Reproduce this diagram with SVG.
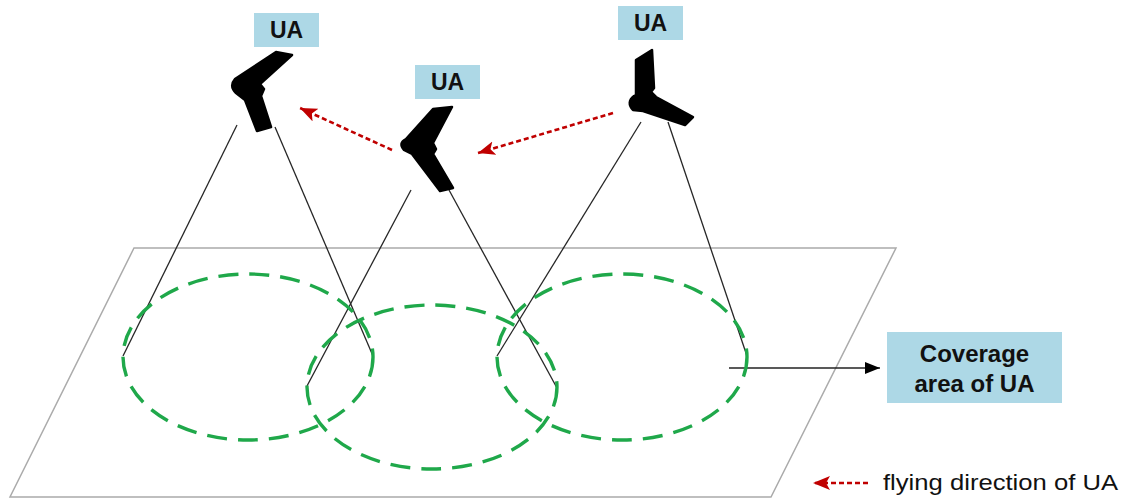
<svg xmlns="http://www.w3.org/2000/svg" width="1127" height="499" viewBox="0 0 1127 499">
  <style>
    .plane { fill: #ffffff; stroke: #ababab; stroke-width: 1.5; }
    .cover { fill: none; stroke: #1fa84a; stroke-width: 3.4; stroke-dasharray: 20 11; }
    .beam { stroke: #262626; stroke-width: 1.3; fill: none; }
    .drone { fill: #000000; stroke: #000000; stroke-width: 2.5; stroke-linejoin: round; }
    .tag { fill: #add8e6; }
    .tagtext { font-family: "Liberation Sans", Arial, sans-serif; font-weight: bold; font-size: 23px; fill: #111111; text-anchor: middle; }
    .fly { stroke: #c00000; stroke-width: 2.6; stroke-dasharray: 5 3; fill: none; }
    .legend { font-family: "Liberation Sans", Arial, sans-serif; font-size: 22px; fill: #111111; }
  </style>
  <defs>
    <marker id="redHead" markerUnits="userSpaceOnUse" markerWidth="20" markerHeight="16" refX="17" refY="7" orient="auto">
      <path d="M0,0 L17,7 L0,14 L4,7 Z" fill="#c00000"/>
    </marker>
    <marker id="blackHead" markerUnits="userSpaceOnUse" markerWidth="16" markerHeight="12" refX="15" refY="6" orient="auto">
      <path d="M0,0 L15,6 L0,12 Z" fill="#000000"/>
    </marker>
  </defs>

  <!-- ground plane -->
  <polygon class="plane" points="134,248 896,248 771,497 10,497"/>

  <!-- beams from each UA down to the edge of its footprint -->
  <g id="connectors">
    <line class="beam" x1="237" y1="125" x2="123" y2="356"/>
    <line class="beam" x1="275" y1="127" x2="373" y2="356"/>
    <line class="beam" x1="411" y1="190" x2="307" y2="386"/>
    <line class="beam" x1="449" y1="190" x2="557" y2="388"/>
    <line class="beam" x1="641" y1="122" x2="497" y2="356"/>
    <line class="beam" x1="668" y1="122" x2="747" y2="356"/>
    <!-- flying direction -->
    <line class="fly" x1="392" y1="150" x2="300" y2="108" marker-end="url(#redHead)"/>
    <line class="fly" x1="613" y1="113" x2="478" y2="153" marker-end="url(#redHead)"/>
    <!-- pointer to coverage label -->
    <line x1="729" y1="368" x2="880" y2="368" stroke="#222222" stroke-width="1.5" marker-end="url(#blackHead)"/>
  </g>

  <!-- coverage footprints -->
  <g id="footprints">
    <ellipse class="cover" cx="248" cy="357" rx="125" ry="83"/>
    <ellipse class="cover" cx="432" cy="387" rx="125" ry="82"/>
    <ellipse class="cover" cx="622" cy="357" rx="125" ry="83"/>
  </g>

  <!-- UA 1 -->
  <g id="ua1">
    <path class="drone" d="M276,52 L292,55 L260,84 L264,89 L261,96 L271,127 L257,131 L245,100 L236,93 Q229,86 235,79 Z"/>
    <rect class="tag" x="254" y="13" width="65" height="34"/>
    <text class="tagtext" x="286.5" y="38">UA</text>
  </g>

  <!-- UA 2 -->
  <g id="ua2">
    <path class="drone" d="M433,109 L452,107 L433,143 L436,149 L433,154 L453,188 L440,191 L412,154 L404,150 Q398,143 406,139 Z"/>
    <rect class="tag" x="415" y="65" width="65" height="34"/>
    <text class="tagtext" x="447.5" y="90">UA</text>
  </g>

  <!-- UA 3 -->
  <g id="ua3">
    <path class="drone" d="M636,60 L652,50 L654,88 L651,92 L656,97 L693,117 L685,125 L643,111 L633,110 Q626,102 634,96 L636,95 Z"/>
    <rect class="tag" x="618" y="6" width="65" height="34"/>
    <text class="tagtext" x="650.5" y="31">UA</text>
  </g>

  <!-- coverage label -->
  <g id="coverage-label">
    <rect class="tag" x="887" y="332" width="175" height="71"/>
    <text class="tagtext" x="974.5" y="362" style="font-size:24px">Coverage</text>
    <text class="tagtext" x="974.5" y="392" style="font-size:24px">area of UA</text>
  </g>

  <!-- legend -->
  <g id="legend">
    <line class="fly" x1="868" y1="483" x2="813" y2="483" marker-end="url(#redHead)"/>
    <text class="legend" x="883" y="490" textLength="235" lengthAdjust="spacingAndGlyphs">flying direction of UA</text>
  </g>
</svg>
